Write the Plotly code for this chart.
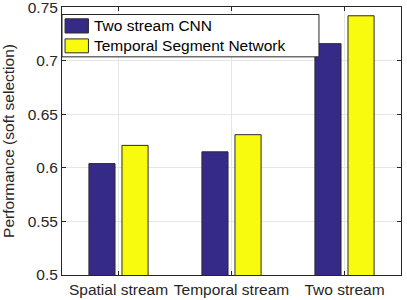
import plotly.graph_objects as go

categories = ["Spatial stream", "Temporal stream", "Two stream"]
series_names = ["Two stream CNN", "Temporal Segment Network"]
two_stream_cnn = [0.604, 0.615, 0.716]
tsn = [0.621, 0.631, 0.742]
y_ticks = [0.5, 0.55, 0.6, 0.65, 0.7, 0.75]
y_tick_labels = ["0.5", "0.55", "0.6", "0.65", "0.7", "0.75"]

colors = ["#352a87", "#f9fb0e"]
font = "Liberation Sans, Arial, Helvetica, sans-serif"
edge = "#2b2b2b"

fig = go.Figure()
for name, vals, c in zip(series_names, [two_stream_cnn, tsn], colors):
    fig.add_trace(go.Bar(
        x=categories, y=vals, name=name,
        marker=dict(color=c, line=dict(color=edge, width=1)),
        hoverinfo="skip",
    ))

axis_common = dict(
    showline=True, linecolor="#262626", linewidth=1, mirror="ticks",
    ticks="inside", ticklen=4, tickcolor="#262626",
    showgrid=True, gridcolor="#e6e6e6", gridwidth=1,
    tickfont=dict(family=font, size=15.5, color="#262626"),
    zeroline=False, automargin=False, ticklabeloverflow="allow",
)

fig.update_layout(
    width=407, height=300,
    margin=dict(l=62, r=6, t=7, b=25),
    paper_bgcolor="white", plot_bgcolor="white",
    barmode="group", bargap=0.415, bargroupgap=0.21,
    font=dict(family=font, size=15.5, color="#262626"),
    showlegend=False,
)
fig.update_xaxes(**axis_common, range=[-0.5, 2.5])
fig.update_yaxes(**axis_common, range=[0.5, 0.7502], tickvals=y_ticks, ticktext=y_tick_labels,
                 title=dict(text="Performance (soft selection)", font=dict(family=font, size=15.5, color="#262626")))

# custom legend (paper coordinates within the plot area)
box = dict(x0=0.0, x1=0.758, y0=0.814, y1=0.972)
fig.add_shape(type="rect", xref="paper", yref="paper", **box,
              fillcolor="white", line=dict(color="#262626", width=1), layer="above")
rows = [(0.903, 0.956, 0.930), (0.829, 0.881, 0.855)]
for (y0, y1, yc), name, c in zip(rows, series_names, colors):
    fig.add_shape(type="rect", xref="paper", yref="paper", x0=0.009, x1=0.078, y0=y0, y1=y1,
                  fillcolor=c, line=dict(color=edge, width=1), layer="above")
    fig.add_annotation(xref="paper", yref="paper", x=0.088, y=yc, text=name, showarrow=False,
                       xanchor="left", yanchor="middle",
                       font=dict(family=font, size=15.5, color="#000000"))

fig.write_html("out.html", config={"displayModeBar": False},
               post_script="document.body.style.margin='0px';")
